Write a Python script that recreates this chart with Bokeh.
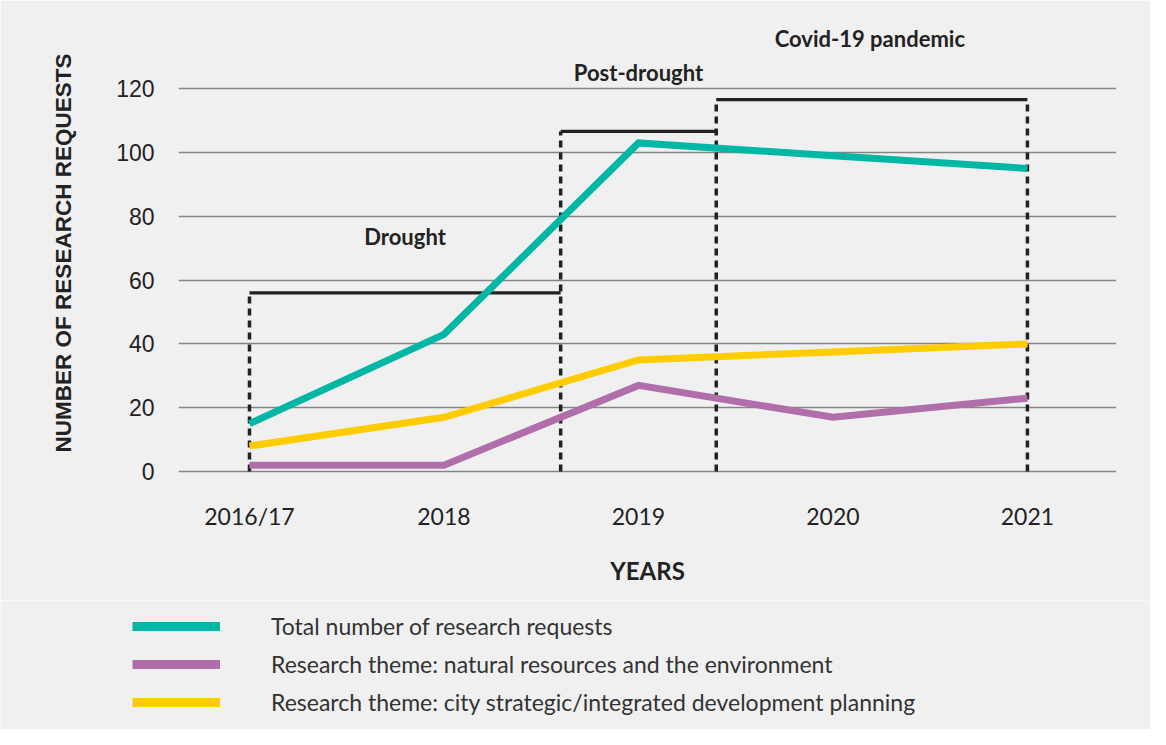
from bokeh.plotting import figure
from bokeh.models import Range1d, FixedTicker, Legend, LegendItem
from bokeh.layouts import column
from bokeh.core.properties import value
from bokeh.embed import file_html
from bokeh.resources import INLINE

years = ["2016/17", "2018", "2019", "2020", "2021"]
total_requests = [15, 43, 103, 99, 95]
natural_resources = [2, 2, 27, 17, 23]
city_planning = [8, 17, 35, 37.5, 40]

series_labels = [
    "Total number of research requests",
    "Research theme: natural resources and the environment",
    "Research theme: city strategic/integrated development planning",
]
series_colors = ["#00b7a5", "#b06eab", "#ffcc00"]

# periods (x in category-index units, level in request units)
period_labels = ["Drought", "Post-drought", "Covid-19 pandemic"]
period_start = [0, 1.6, 2.4]
period_end = [1.6, 2.4, 4]
period_level = [56, 106.6, 116.6]
period_label_x = [0.8, 2.0, 3.19]
period_label_y = [73.7, 125, 135.7]

y_ticks = [0, 20, 40, 60, 80, 100, 120]

BG = "#f0f0f0"
INK = "#222222"

p = figure(width=1150, height=600, output_backend="svg", toolbar_location=None,
           x_range=Range1d(-0.365, 4.458), y_range=Range1d(-5, 142),
           min_border_left=178, min_border_right=34, min_border_top=18,
           min_border_bottom=113)
p.background_fill_color = BG
p.border_fill_color = BG
p.outline_line_color = None
p.xgrid.grid_line_color = None
p.ygrid.grid_line_color = "#858585"
p.ygrid.grid_line_width = 1.6

xs = list(range(len(years)))

# y axis
p.yaxis.ticker = FixedTicker(ticks=y_ticks)
p.yaxis.axis_line_color = None
p.yaxis.major_tick_line_color = None
p.yaxis.minor_tick_line_color = None
p.yaxis.major_label_standoff = 18
p.yaxis.major_label_text_font = "Liberation Sans"
p.yaxis.major_label_text_font_size = "23px"
p.yaxis.major_label_text_color = INK
p.yaxis.axis_label = "NUMBER OF RESEARCH REQUESTS"
p.yaxis.axis_label_text_font = "Liberation Sans"
p.yaxis.axis_label_text_font_style = "bold"
p.yaxis.axis_label_text_font_size = "22.5px"
p.yaxis.axis_label_text_color = INK
p.yaxis.axis_label_standoff = 37

# x axis
p.xaxis.ticker = FixedTicker(ticks=xs)
p.xaxis.major_label_overrides = {i: y for i, y in enumerate(years)}
p.xaxis.axis_line_color = None
p.xaxis.major_tick_line_color = None
p.xaxis.minor_tick_line_color = None
p.xaxis.major_label_standoff = 8
p.xaxis.major_label_text_font = "Lato"
p.xaxis.major_label_text_font_size = "23px"
p.xaxis.major_label_text_color = INK
p.xaxis.axis_label = "YEARS"
p.xaxis.axis_label_text_font = "Lato"
p.xaxis.axis_label_text_font_style = "bold"
p.xaxis.axis_label_text_font_size = "24px"
p.xaxis.axis_label_text_color = INK
p.xaxis.axis_label_standoff = 23

# period dashed verticals and bars
vx = [period_start[0], period_end[0], period_start[2], period_end[2]]
vtop = [period_level[0], period_level[1], period_level[2], period_level[2]]
p.segment(x0=vx, y0=[0] * len(vx), x1=vx, y1=vtop, line_color=INK,
          line_width=3.5, line_dash="7 5")
p.segment(x0=period_start, y0=period_level, x1=period_end, y1=period_level,
          line_color=INK, line_width=3.2)
p.text(x=period_label_x, y=period_label_y, text=period_labels,
       text_font=value("Lato"), text_font_style="bold", text_font_size="22px",
       text_color=INK, text_align="center", text_baseline="middle")

all_series = [total_requests, natural_resources, city_planning]

# series
for ys, c in zip(all_series, series_colors):
    p.line(xs, ys, line_color=c, line_width=7, line_join="miter")

# legend panel (its lines lie outside its visible range; only the legend shows)
lg = figure(width=1150, height=129, output_backend="svg", toolbar_location=None,
            x_range=Range1d(100, 101), y_range=Range1d(1000, 1001),
            x_axis_location=None, y_axis_location=None,
            min_border_left=0, min_border_right=0, min_border_top=0,
            min_border_bottom=0)
lg.background_fill_color = BG
lg.border_fill_color = BG
lg.outline_line_color = None
lg.grid.visible = False
items = []
for ys, lab, c in zip(all_series, series_labels, series_colors):
    r = lg.line(xs, ys, line_color=c, line_width=9, line_cap="butt")
    items.append(LegendItem(label=lab, renderers=[r]))
legend = Legend(items=items, location=(132, 13))
legend.glyph_width = 88
legend.glyph_height = 28
legend.label_height = 28
legend.spacing = 10
legend.label_standoff = 51
legend.padding = 0
legend.margin = 0
legend.border_line_color = None
legend.background_fill_alpha = 0
legend.label_text_font = "Lato"
legend.label_text_font_size = "23px"
legend.label_text_color = "#333333"
lg.add_layout(legend)

layout = column(p, column(lg, spacing=0), spacing=0)
open("out.html", "w").write(file_html(layout, INLINE))
